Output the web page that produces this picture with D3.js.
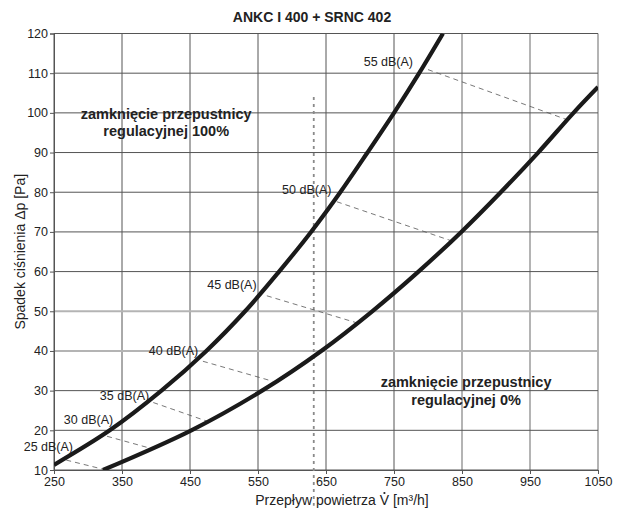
<!DOCTYPE html>
<html>
<head>
<meta charset="utf-8">
<script src="https://cdn.jsdelivr.net/npm/d3@7"></script>
<style>
	body { margin: 0; background: #fff; }
	text { font-family: "Liberation Sans", Arial, sans-serif; fill: #222; }
</style>
</head>
<body>
<script>

// krzywa: zamkniecie przepustnicy 100% [V m3/h, dp Pa]
var curveClosed = [[250,11.3],[332,20],[408,30],[474,40],[531,50],[581,60],[628,70],[671,80],[711,90],[750,100],[787,110],[822,120]];
// krzywa: zamkniecie przepustnicy 0%
var curveOpen = [[322,10],[452,20],[556,30],[643,40],[718,50],[786,60],[849,70],[907,80],[962,90],[1014,100],[1050,106.5]];

// linie halasu dB(A): poczatek na krzywej 100%, koniec na krzywej 0%
var noiseLabels = ["25 dB(A)","30 dB(A)","35 dB(A)","40 dB(A)","45 dB(A)","50 dB(A)","55 dB(A)"];
var noiseFrom = [[268,12.5],[328,18.5],[396,27],[469,37.4],[563,53.9],[666,77.6],[800,110.9]];
var noiseTo = [[322,10.2],[387,15.7],[475,22.3],[571,32.4],[695,47.1],[837,67.6],[1009,98]];
var noiseLabelAt = [[278,14.8],[337,21.6],[390,27.6],[462,38.9],[548,55.5],[658,79.6],[778,111.8]];

var xTicks = [250,350,450,550,650,750,850,950,1050];
var yTicks = [10,20,30,40,50,60,70,80,90,100,110,120];
var xLight = [850,950,1050];
var yLight = [40,50];

var notes = [["zamknięcie przepustnicy","regulacyjnej 100%"],["zamknięcie przepustnicy","regulacyjnej 0%"]];
var noteAt = [[415,98.5],[856,30.8]];

// slad skanu - pionowa kreskowana linia
var scanX = 632;
var scanY = [104,1];

var width = 620, height = 514;
var margin = {top: 33.5, right: 22, bottom: 44, left: 54};

var svg = d3.select("body").append("svg")
			.attr("width", width)
			.attr("height", height);

var x = d3.scaleLinear().domain([250,1050]).range([margin.left, width-margin.right]);
var y = d3.scaleLinear().domain([10,120]).range([height-margin.bottom, margin.top]);

svg.append("defs").append("clipPath").attr("id", "plot")
	.append("rect")
	.attr("x", margin.left).attr("y", margin.top)
	.attr("width", x(1050)-x(250)).attr("height", y(10)-y(120));

// siatka
svg.append("g").selectAll("line").data(xTicks).enter().append("line")
	.attr("x1", function(d){ return x(d); })
	.attr("x2", function(d){ return x(d); })
	.attr("y1", y(10)).attr("y2", y(120))
	.attr("stroke", function(d){ return xLight.indexOf(d) >= 0 ? "#b4b4b4" : "#555"; })
	.attr("stroke-width", function(d){ return xLight.indexOf(d) >= 0 ? 2 : 1; });

svg.append("g").selectAll("line").data(yTicks).enter().append("line")
	.attr("y1", function(d){ return y(d); })
	.attr("y2", function(d){ return y(d); })
	.attr("x1", x(250)).attr("x2", x(1050))
	.attr("stroke", function(d){ return yLight.indexOf(d) >= 0 ? "#b4b4b4" : "#555"; })
	.attr("stroke-width", function(d){ return yLight.indexOf(d) >= 0 ? 2 : 1; });

// osie
var xAxis = svg.append("g")
	.attr("transform", "translate(0," + y(10) + ")")
	.call(d3.axisBottom(x).tickValues(xTicks).tickFormat(d3.format("d")).tickSize(4).tickPadding(3));
var yAxis = svg.append("g")
	.attr("transform", "translate(" + x(250) + ",0)")
	.call(d3.axisLeft(y).tickValues(yTicks).tickFormat(d3.format("d")).tickSize(4).tickPadding(2));

[xAxis, yAxis].forEach(function(a){
	a.select(".domain").attr("stroke", "#555");
	a.selectAll(".tick line").attr("stroke", "#555");
	a.selectAll(".tick text")
		.style("font-family", "'Liberation Sans', Arial, sans-serif")
		.style("font-size", "12.5px")
		.attr("fill", "#222");
});

// slad skanu
svg.append("line")
	.attr("x1", x(scanX)).attr("x2", x(scanX))
	.attr("y1", y(scanY[0])).attr("y2", y(scanY[1]))
	.attr("stroke", "#8a8a8a")
	.attr("stroke-width", 1.8)
	.attr("stroke-dasharray", "3,4");

// linie halasu
var plot = svg.append("g").attr("clip-path", "url(#plot)");

for (var i = 0; i < noiseLabels.length; i++) {
	plot.append("line")
		.attr("x1", x(noiseFrom[i][0])).attr("y1", y(noiseFrom[i][1]))
		.attr("x2", x(noiseTo[i][0])).attr("y2", y(noiseTo[i][1]))
		.attr("stroke", "#555")
		.attr("stroke-width", 0.8)
		.attr("stroke-dasharray", "5,4");

	svg.append("text")
		.attr("x", x(noiseLabelAt[i][0]))
		.attr("y", y(noiseLabelAt[i][1]))
		.attr("text-anchor", "end")
		.style("font-size", "12.5px")
		.text(noiseLabels[i]);
}

// krzywe
var line = d3.line()
	.x(function(d){ return x(d[0]); })
	.y(function(d){ return y(d[1]); })
	.curve(d3.curveCatmullRom.alpha(0.5));

[curveClosed, curveOpen].forEach(function(c){
	plot.append("path")
		.attr("d", line(c))
		.attr("fill", "none")
		.attr("stroke", "#1a1a1a")
		.attr("stroke-width", 4.2);
});

// opisy
for (var j = 0; j < notes.length; j++) {
	var t = svg.append("text")
		.attr("x", x(noteAt[j][0]))
		.attr("y", y(noteAt[j][1]))
		.attr("text-anchor", "middle")
		.style("font-size", "14.5px")
		.style("font-weight", "bold");
	t.append("tspan").attr("x", x(noteAt[j][0])).text(notes[j][0]);
	t.append("tspan").attr("x", x(noteAt[j][0])).attr("dy", 17.5).text(notes[j][1]);
}

// tytul i opisy osi
svg.append("text")
	.attr("x", width/2 + 2)
	.attr("y", 22)
	.attr("text-anchor", "middle")
	.style("font-size", "14px")
	.style("font-weight", "bold")
	.text("ANKC I 400 + SRNC 402");

var xLabel = "Przepływ powietrza V [m³/h]";
var xl = svg.append("text")
	.attr("x", 342)
	.attr("y", 505)
	.attr("text-anchor", "middle")
	.style("font-size", "14px")
	.text(xLabel);

// kropka nad V
var vi = xLabel.indexOf("V");
var box = xl.node().getExtentOfChar(vi);
svg.append("circle")
	.attr("cx", box.x + box.width/2)
	.attr("cy", box.y + 1)
	.attr("r", 1.1)
	.attr("fill", "#222");

svg.append("text")
	.attr("transform", "translate(25," + (margin.top + (height-margin.bottom-margin.top)/2) + ") rotate(-90)")
	.attr("text-anchor", "middle")
	.style("font-size", "14px")
	.text("Spadek ciśnienia Δp [Pa]");

</script>
</body>
</html>
